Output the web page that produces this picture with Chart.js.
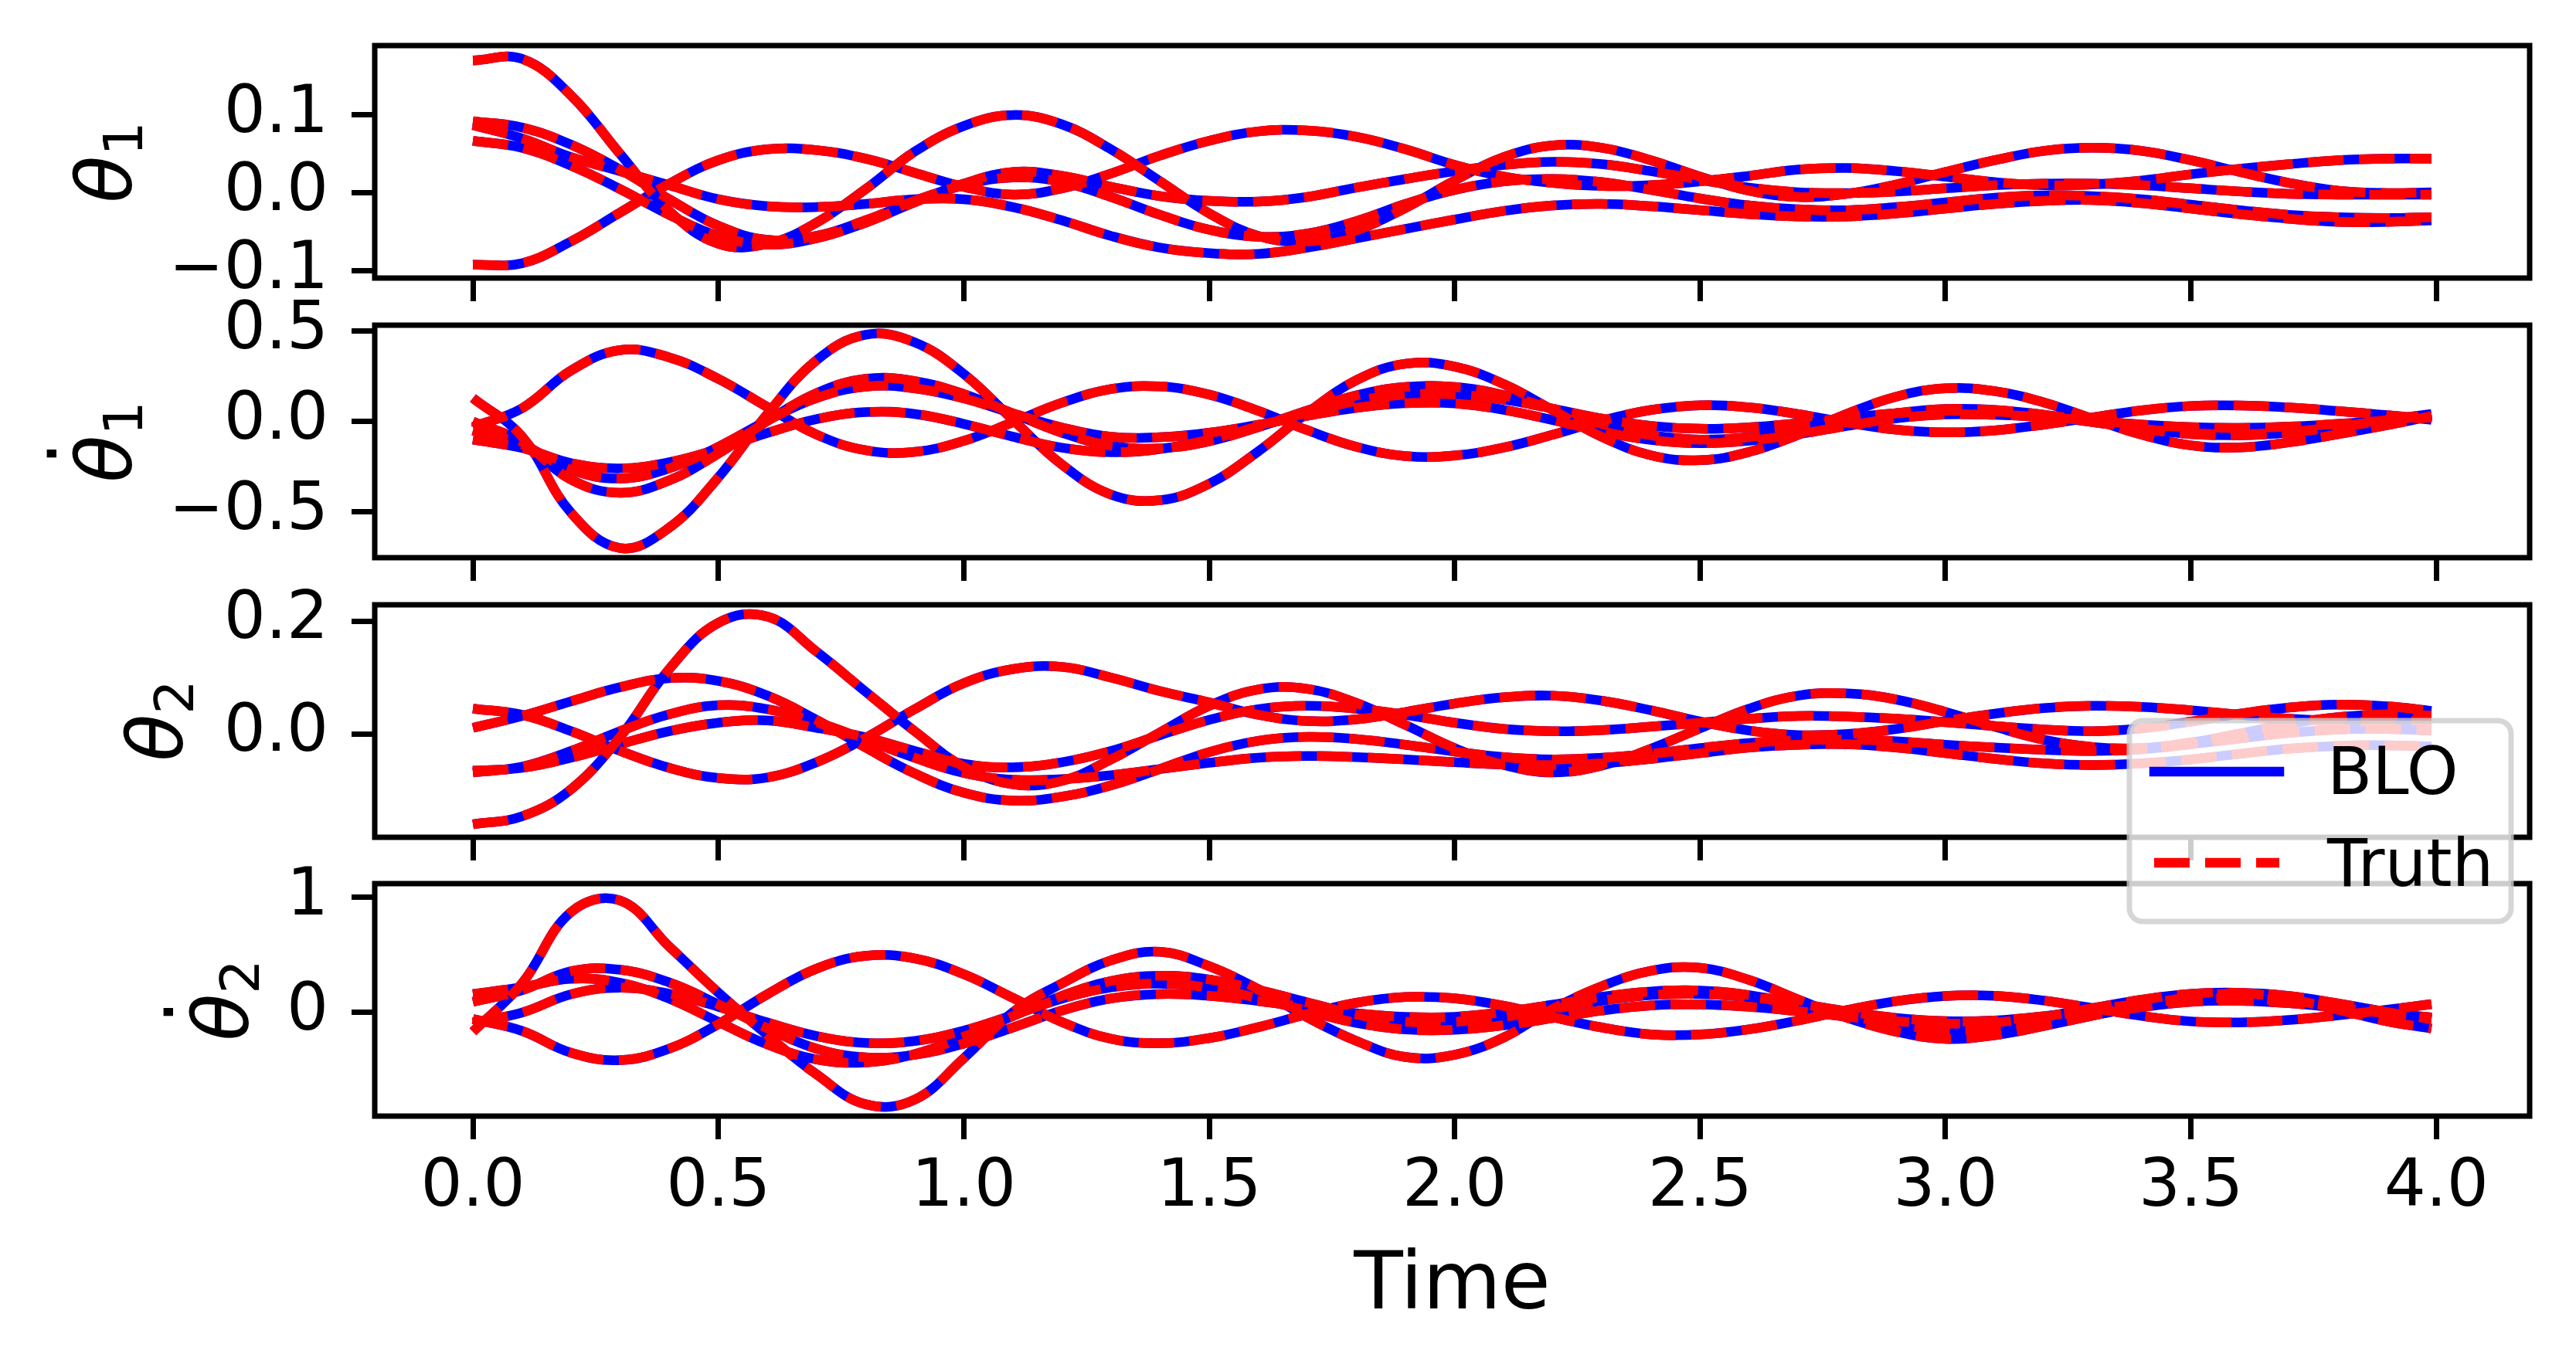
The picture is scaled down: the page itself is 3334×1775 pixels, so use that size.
<!DOCTYPE html>
<html>
<head>
<meta charset="utf-8">
<title>BLO vs Truth</title>
<script src="https://cdn.jsdelivr.net/npm/chart.js@4.4.1/dist/chart.umd.min.js"></script>
<style>
  html, body { margin: 0; padding: 0; background: #fff; }
  #page { position: relative; width: 3334px; height: 1775px; overflow: hidden; }
  #page canvas { position: absolute; left: 0; }
  #overlay { position: absolute; left: 0; top: 0; }
</style>
</head>
<body>
<div id="page">
  <canvas id="c1"></canvas>
  <canvas id="c2"></canvas>
  <canvas id="c3"></canvas>
  <canvas id="c4"></canvas>
  <svg id="overlay" width="3334" height="1775" font-family="DejaVu Sans">
    <!-- y axis labels -->
    <g transform="translate(170,210) rotate(-90)">
      <text x="0" y="0" text-anchor="middle" font-size="100"><tspan font-style="italic">θ</tspan><tspan font-size="70" dy="14">1</tspan></text>
    </g>
    <g transform="translate(170,572) rotate(-90)">
      <text x="0" y="0" text-anchor="middle" font-size="100"><tspan font-style="italic">θ</tspan><tspan font-size="70" dy="14">1</tspan></text>
      <text x="-15" y="-97" text-anchor="middle" font-size="100">.</text>
    </g>
    <g transform="translate(236,933) rotate(-90)">
      <text x="0" y="0" text-anchor="middle" font-size="100"><tspan font-style="italic">θ</tspan><tspan font-size="70" dy="14">2</tspan></text>
    </g>
    <g transform="translate(321,1295) rotate(-90)">
      <text x="0" y="0" text-anchor="middle" font-size="100"><tspan font-style="italic">θ</tspan><tspan font-size="70" dy="14">2</tspan></text>
      <text x="-15" y="-97" text-anchor="middle" font-size="100">.</text>
    </g>
    <!-- legend -->
    <rect x="2756" y="933" width="494" height="260" rx="17" fill="rgba(255,255,255,0.8)" stroke="rgba(204,204,204,0.8)" stroke-width="7"/>
    <line x1="2788" y1="999" x2="2950" y2="999" stroke="#0000ff" stroke-width="12.5" stroke-linecap="square"/>
    <line x1="2788" y1="1117" x2="2950" y2="1117" stroke="#ff0000" stroke-width="12.5" stroke-dasharray="46 20"/>
    <text x="3012" y="1028" font-size="85">BLO</text>
    <text x="3012" y="1147" font-size="85">Truth</text>
  </svg>
</div>
<script>
// time samples (s)
const time = [0.0,0.1,0.2,0.3,0.4,0.5,0.6,0.7,0.8,0.9,1.0,1.1,1.2,1.3,1.4,1.5,1.6,1.7,1.8,1.9,
              2.0,2.1,2.2,2.3,2.4,2.5,2.6,2.7,2.8,2.9,3.0,3.1,3.2,3.3,3.4,3.5,3.6,3.7,3.8,3.9,3.99];

// tick labels
const xTicks = [0.0, 0.5, 1.0, 1.5, 2.0, 2.5, 3.0, 3.5, 4.0];
const theta1Ticks = [-0.1, 0.0, 0.1];
const dtheta1Ticks = [-0.5, 0.0, 0.5];
const theta2Ticks = [0.0, 0.2];
const dtheta2Ticks = [0, 1];

// theta_1, five trajectories
const theta1A = [0.170,0.172,0.125,0.050,-0.023,-0.065,-0.065,-0.038,0.005,0.053,0.086,0.100,0.088,0.056,0.015,-0.026,-0.055,-0.062,-0.048,-0.019,
                 0.016,0.046,0.061,0.058,0.042,0.021,0.003,-0.005,-0.001,0.011,0.027,0.042,0.054,0.058,0.054,0.042,0.027,0.013,0.003,0.000,0.001];
const theta1B = [0.092,0.084,0.062,0.030,-0.008,-0.042,-0.060,-0.055,-0.035,-0.010,0.010,0.020,0.014,-0.005,-0.028,-0.047,-0.056,-0.052,-0.036,-0.014,
                 0.004,0.015,0.018,0.014,0.004,-0.007,-0.016,-0.021,-0.022,-0.018,-0.012,-0.006,-0.003,-0.004,-0.008,-0.015,-0.022,-0.028,-0.031,-0.032,-0.031];
const theta1C = [0.067,0.058,0.035,0.005,-0.028,-0.055,-0.066,-0.058,-0.038,-0.012,0.012,0.027,0.022,0.008,-0.004,-0.010,-0.011,-0.005,0.007,0.018,
                 0.028,0.036,0.040,0.037,0.028,0.017,0.007,0.001,0.000,0.002,0.006,0.010,0.012,0.012,0.010,0.006,0.002,-0.001,-0.002,-0.002,-0.002];
const theta1D = [-0.092,-0.090,-0.062,-0.025,0.012,0.042,0.056,0.055,0.044,0.026,0.008,-0.002,0.006,0.025,0.048,0.067,0.079,0.080,0.072,0.056,
                 0.036,0.021,0.013,0.009,0.010,0.015,0.022,0.030,0.032,0.028,0.021,0.014,0.010,0.011,0.016,0.024,0.031,0.037,0.042,0.044,0.044];
const theta1E = [0.087,0.070,0.046,0.028,0.010,-0.008,-0.017,-0.018,-0.014,-0.008,-0.008,-0.018,-0.035,-0.055,-0.070,-0.077,-0.078,-0.070,-0.058,-0.046,
                 -0.034,-0.023,-0.016,-0.014,-0.017,-0.022,-0.027,-0.030,-0.030,-0.026,-0.020,-0.014,-0.010,-0.009,-0.013,-0.020,-0.027,-0.033,-0.037,-0.037,-0.035];

// d theta_1 / dt
const dtheta1A = [0.13,-0.083,-0.505,-0.70,-0.587,-0.309,0.042,0.339,0.48,0.438,0.263,0.01,-0.238,-0.404,-0.435,-0.344,-0.165,0.048,0.229,0.32,
                  0.304,0.207,0.063,-0.085,-0.187,-0.214,-0.168,-0.073,0.043,0.138,0.184,0.168,0.106,0.015,-0.073,-0.132,-0.143,-0.115,-0.07,-0.02,0.03];
const dtheta1B = [0.0,-0.113,-0.321,-0.394,-0.325,-0.177,0.003,0.157,0.236,0.224,0.152,0.045,-0.062,-0.134,-0.148,-0.109,-0.031,0.061,0.145,0.191,
                  0.191,0.146,0.069,-0.014,-0.076,-0.10,-0.086,-0.047,0.003,0.046,0.069,0.064,0.038,-0.001,-0.041,-0.069,-0.076,-0.061,-0.029,0.009,0.042];
const dtheta1C = [-0.05,-0.126,-0.266,-0.315,-0.259,-0.14,0.006,0.13,0.193,0.184,0.128,0.045,-0.033,-0.084,-0.087,-0.062,-0.018,0.032,0.076,0.101,
                  0.1,0.065,0.008,-0.055,-0.102,-0.12,-0.106,-0.07,-0.024,0.018,0.039,0.037,0.024,0.004,-0.017,-0.031,-0.035,-0.028,-0.013,0.006,0.022];
const dtheta1D = [-0.03,0.073,0.282,0.395,0.355,0.236,0.08,-0.072,-0.159,-0.168,-0.107,-0.004,0.104,0.18,0.194,0.149,0.059,-0.048,-0.14,-0.191,
                  -0.188,-0.144,-0.073,0.005,0.064,0.09,0.078,0.041,-0.006,-0.045,-0.06,-0.049,-0.017,0.023,0.062,0.086,0.089,0.078,0.058,0.035,0.01];
const dtheta1E = [-0.10,-0.146,-0.23,-0.259,-0.225,-0.152,-0.063,0.013,0.052,0.042,-0.013,-0.084,-0.145,-0.17,-0.152,-0.1,-0.027,0.049,0.114,0.149,
                  0.15,0.121,0.071,0.016,-0.024,-0.04,-0.032,-0.009,0.02,0.046,0.059,0.055,0.032,-0.003,-0.039,-0.063,-0.07,-0.057,-0.029,0.005,0.034];

// theta_2
const theta2A = [-0.16,-0.146,-0.098,-0.005,0.115,0.197,0.208,0.146,0.075,0.005,-0.058,-0.089,-0.083,-0.045,0.003,0.05,0.079,0.08,0.055,0.016,
                 -0.025,-0.055,-0.068,-0.056,-0.026,0.01,0.045,0.068,0.072,0.061,0.039,0.013,-0.01,-0.023,-0.025,-0.015,0.001,0.018,0.03,0.035,0.033];
const theta2B = [0.045,0.034,0.005,-0.03,-0.06,-0.078,-0.077,-0.05,-0.007,0.044,0.09,0.115,0.119,0.100,0.076,0.056,0.034,0.023,0.026,0.039,
                 0.054,0.065,0.068,0.059,0.042,0.022,0.006,-0.002,0.0,0.009,0.023,0.036,0.046,0.05,0.048,0.042,0.034,0.027,0.023,0.022,0.024];
const theta2C = [0.011,0.032,0.058,0.083,0.099,0.094,0.068,0.025,-0.024,-0.07,-0.104,-0.118,-0.111,-0.091,-0.062,-0.032,-0.012,-0.005,-0.009,-0.019,
                 -0.031,-0.041,-0.045,-0.042,-0.035,-0.025,-0.016,-0.011,-0.01,-0.013,-0.019,-0.024,-0.028,-0.03,-0.027,-0.018,-0.008,0.002,0.008,0.009,0.006];
const theta2D = [-0.068,-0.058,-0.03,0.005,0.035,0.051,0.044,0.021,-0.010,-0.042,-0.069,-0.081,-0.080,-0.073,-0.062,-0.051,-0.042,-0.039,-0.041,-0.045,
                 -0.05,-0.054,-0.055,-0.052,-0.044,-0.034,-0.024,-0.019,-0.018,-0.024,-0.034,-0.044,-0.052,-0.055,-0.052,-0.045,-0.035,-0.026,-0.021,-0.02,-0.022];
const theta2E = [-0.065,-0.06,-0.042,-0.018,0.005,0.02,0.024,0.011,-0.006,-0.03,-0.053,-0.059,-0.05,-0.03,-0.002,0.025,0.044,0.05,0.045,0.034,
                 0.02,0.009,0.005,0.007,0.013,0.02,0.027,0.032,0.031,0.027,0.021,0.014,0.008,0.005,0.01,0.022,0.036,0.047,0.052,0.049,0.041];

// d theta_2 / dt
const dtheta2A = [-0.17,0.25,0.87,0.97,0.57,0.17,-0.2,-0.54,-0.8,-0.76,-0.4,0.0,0.25,0.45,0.525,0.4,0.2,-0.045,-0.25,-0.39,
                  -0.37,-0.22,0.03,0.226,0.36,0.385,0.28,0.11,-0.05,-0.17,-0.232,-0.2,-0.12,-0.03,0.06,0.13,0.165,0.14,0.075,0.0,-0.06];
const dtheta2B = [-0.06,-0.163,-0.352,-0.417,-0.317,-0.104,0.156,0.378,0.49,0.467,0.33,0.124,-0.086,-0.231,-0.269,-0.225,-0.13,-0.016,0.082,0.132,
                  0.12,0.055,-0.043,-0.133,-0.193,-0.194,-0.149,-0.072,0.019,0.096,0.141,0.142,0.101,0.036,-0.033,-0.08,-0.089,-0.068,-0.027,0.021,0.07];
const dtheta2C = [0.158,0.216,0.29,0.256,0.117,-0.084,-0.28,-0.411,-0.436,-0.364,-0.213,-0.034,0.142,0.27,0.316,0.284,0.194,0.085,-0.021,-0.082,
                  -0.084,-0.041,0.028,0.1,0.149,0.158,0.13,0.074,0.007,-0.05,-0.078,-0.072,-0.035,0.02,0.075,0.112,0.118,0.093,0.045,-0.009,-0.054];
const dtheta2D = [0.09,0.191,0.356,0.369,0.258,0.068,-0.14,-0.317,-0.393,-0.37,-0.273,-0.133,0.014,0.119,0.158,0.142,0.097,0.042,-0.01,-0.041,
                  -0.04,0.001,0.065,0.134,0.18,0.188,0.148,0.068,-0.027,-0.107,-0.148,-0.14,-0.094,-0.025,0.044,0.09,0.099,0.078,0.037,-0.009,-0.046];
const dtheta2E = [-0.09,-0.003,0.156,0.213,0.16,0.047,-0.09,-0.207,-0.267,-0.25,-0.16,-0.025,0.118,0.215,0.248,0.211,0.12,0.011,-0.093,-0.15,
                  -0.153,-0.114,-0.052,0.014,0.058,0.067,0.047,0.008,-0.039,-0.079,-0.099,-0.089,-0.039,0.035,0.109,0.159,0.167,0.115,0.021,-0.08,-0.142];

Chart.defaults.font.family = "'DejaVu Sans', sans-serif";
Chart.defaults.color = '#000';

const PAGE_W = 3334, PAGE_H = 1775;
const AXIS_LEFT = 485, AXIS_RIGHT = 3274, PLOT_H = 301, PAD_TOP = 55;

const panels = [
  { id: 'c1', top: 59,   min: -0.109, max: 0.189, ticks: theta1Ticks,  digits: 1, series: [theta1A, theta1B, theta1C, theta1D, theta1E] },
  { id: 'c2', top: 421,  min: -0.753, max: 0.533, ticks: dtheta1Ticks, digits: 1, series: [dtheta1A, dtheta1B, dtheta1C, dtheta1D, dtheta1E] },
  { id: 'c3', top: 783,  min: -0.183, max: 0.229, ticks: theta2Ticks,  digits: 1, series: [theta2A, theta2B, theta2C, theta2D, theta2E] },
  { id: 'c4', top: 1144, min: -0.903, max: 1.117, ticks: dtheta2Ticks, digits: 0, series: [dtheta2A, dtheta2B, dtheta2C, dtheta2D, dtheta2E] }
];

function fmt(v, digits) {
  return v.toFixed(digits).replace('-', '\u2212');
}

// black box round each plot area, drawn over the curves like matplotlib spines
const frame = {
  id: 'frame',
  afterDatasetsDraw(chart) {
    const a = chart.chartArea, ctx = chart.ctx;
    ctx.save();
    ctx.strokeStyle = '#000';
    ctx.lineWidth = 7;
    ctx.lineJoin = 'miter';
    ctx.strokeRect(a.left, a.top, a.right - a.left, a.bottom - a.top);
    ctx.restore();
  }
};

panels.forEach((p, idx) => {
  const last = idx === panels.length - 1;
  const xh = last ? PAGE_H - (p.top + PLOT_H) : 45;
  const canvas = document.getElementById(p.id);
  const h = PAD_TOP + PLOT_H + xh;
  canvas.width = PAGE_W;
  canvas.height = h;
  canvas.style.width = PAGE_W + 'px';
  canvas.style.height = h + 'px';
  canvas.style.top = (p.top - PAD_TOP) + 'px';

  const toXY = vals => vals.map((v, i) => ({ x: time[i], y: v }));
  const datasets = [];
  p.series.forEach((s, k) => {
    datasets.push({
      label: k === 0 ? 'Truth' : '_truth' + k,
      data: toXY(s), borderColor: '#ff0000', borderWidth: 12.5, borderDash: [46, 20],
      pointRadius: 0, tension: 0.4, fill: false, order: 0
    });
  });
  p.series.forEach((s, k) => {
    datasets.push({
      label: k === 0 ? 'BLO' : '_blo' + k,
      data: toXY(s), borderColor: '#0000ff', borderWidth: 12.5, borderJoinStyle: 'round',
      pointRadius: 0, tension: 0.4, fill: false, order: 1
    });
  });

  new Chart(canvas, {
    type: 'line',
    data: { datasets },
    plugins: [frame],
    options: {
      responsive: false,
      maintainAspectRatio: false,
      animation: false,
      events: [],
      layout: { padding: { top: PAD_TOP, right: PAGE_W - AXIS_RIGHT, left: 0, bottom: 0 } },
      plugins: { legend: { display: false }, tooltip: { enabled: false } },
      scales: {
        x: {
          type: 'linear', min: -0.2, max: 4.19,
          afterBuildTicks: s => { s.ticks = xTicks.map(v => ({ value: v })); },
          afterFit: s => { s.height = xh; s.paddingLeft = 0; s.paddingRight = 0; },
          border: { display: false },
          grid: { drawOnChartArea: false, drawTicks: true, tickLength: 30, tickWidth: 7, tickColor: '#000' },
          ticks: { display: last, autoSkip: false, maxRotation: 0, padding: 13, font: { size: 85 }, color: '#000',
                   callback: v => fmt(v, 1) },
          title: { display: last, text: 'Time', font: { size: 104 }, color: '#000', padding: { top: 0, bottom: 46 } }
        },
        y: {
          type: 'linear', min: p.min, max: p.max,
          afterBuildTicks: s => { s.ticks = p.ticks.map(v => ({ value: v })); },
          afterFit: s => { s.width = AXIS_LEFT; s.paddingTop = 0; s.paddingBottom = 0; },
          border: { display: false },
          grid: { drawOnChartArea: false, drawTicks: true, tickLength: 30, tickWidth: 7, tickColor: '#000' },
          ticks: { autoSkip: false, padding: 30, font: { size: 85 }, color: '#000',
                   callback: v => fmt(v, p.digits) }
        }
      }
    }
  });
});
</script>
</body>
</html>
